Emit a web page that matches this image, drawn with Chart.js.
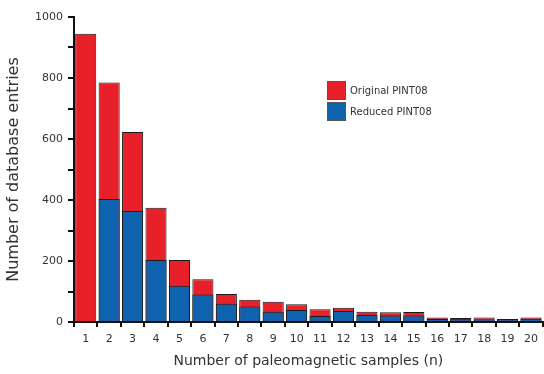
<!DOCTYPE html>
<html>
<head>
<meta charset="utf-8">
<script src="https://cdn.jsdelivr.net/npm/chart.js@4"></script>
<style>
  html, body { margin: 0; padding: 0; background: #fff; }
  #wrap { width: 544px; height: 374px; }
</style>
</head>
<body>
<div id="wrap"><canvas id="chart" width="544" height="374"></canvas></div>
<script>
// sample counts n = 1..20
let categories = ["1","2","3","4","5","6","7","8","9","10","11","12","13","14","15","16","17","18","19","20"];
let original = [945, 785, 623, 375, 203, 140, 92, 73, 66, 58, 42, 47, 34, 32, 33, 15, 13, 15, 10, 15];
let reduced  = [0, 403, 364, 203, 119, 90, 60, 51, 34, 39, 20, 36, 23, 21, 21, 10, 9, 8, 8, 11];
let yTicks = [0, 200, 400, 600, 800, 1000];

const RED = "#e8202a";
const BLUE = "#0f62ad";
const EDGE = "#1a1a1a";
const FONT = "'DejaVu Sans', sans-serif";

// legend drawn inside the plot, like the original figure
const boxLegend = {
  id: "boxLegend",
  afterDraw(chart) {
    let ctx = chart.ctx;
    let x = 327, y = 81;
    chart.data.datasets.slice().reverse().forEach((ds, i) => {
      let top = y + i * 21;
      ctx.fillStyle = ds.backgroundColor;
      ctx.fillRect(x, top, 19, 19);
      ctx.strokeStyle = "#555";
      ctx.lineWidth = 1;
      ctx.strokeRect(x + 0.5, top + 0.5, 18, 18);
      ctx.fillStyle = "#333";
      ctx.font = "10px " + FONT;
      ctx.textBaseline = "middle";
      ctx.fillText(ds.label, x + 23, top + 10);
    });
  }
};

new Chart(document.getElementById("chart"), {
  type: "bar",
  data: {
    labels: categories,
    datasets: [
      {label: "Reduced PINT08", data: reduced, backgroundColor: BLUE, borderColor: EDGE, borderWidth: 1, order: 1, grouped: false},
      {label: "Original PINT08", data: original, backgroundColor: RED, borderColor: EDGE, borderWidth: 1, order: 2, grouped: false}
    ]
  },
  plugins: [boxLegend],
  options: {
    responsive: false,
    animation: false,
    layout: {padding: {top: 17, right: 0, left: 0, bottom: 0}},
    plugins: {legend: {display: false}, tooltip: {enabled: false}},
    datasets: {bar: {barPercentage: 0.9, categoryPercentage: 1}},
    scales: {
      x: {
        grid: {display: true, drawOnChartArea: false, offset: true, tickLength: 5, color: "#111", lineWidth: 2},
        border: {display: true, color: "#111", width: 2},
        ticks: {color: "#333", font: {family: FONT, size: 11}, padding: 6, maxRotation: 0, autoSkip: false},
        title: {display: true, text: "Number of paleomagnetic samples (n)", color: "#333", font: {family: FONT, size: 14}, padding: {top: 0}},
        afterFit(s) { s.height = 52; }
      },
      y: {
        min: 0, max: 1000,
        afterBuildTicks(s) {
          let t = [];
          for (let v = 0; v <= 1000; v += 100) t.push({value: v});
          s.ticks = t;
        },
        grid: {display: true, drawOnChartArea: false, tickLength: 6, color: "#111", lineWidth: 2},
        border: {display: true, color: "#111", width: 2},
        ticks: {
          color: "#333", font: {family: FONT, size: 11}, padding: 5,
          callback: v => yTicks.includes(v) ? v : ""
        },
        title: {display: true, text: "Number of database entries", color: "#333", font: {family: FONT, size: 16}, padding: {bottom: 2}},
        afterFit(s) { s.width = 74; }
      }
    }
  }
});
</script>
</body>
</html>
